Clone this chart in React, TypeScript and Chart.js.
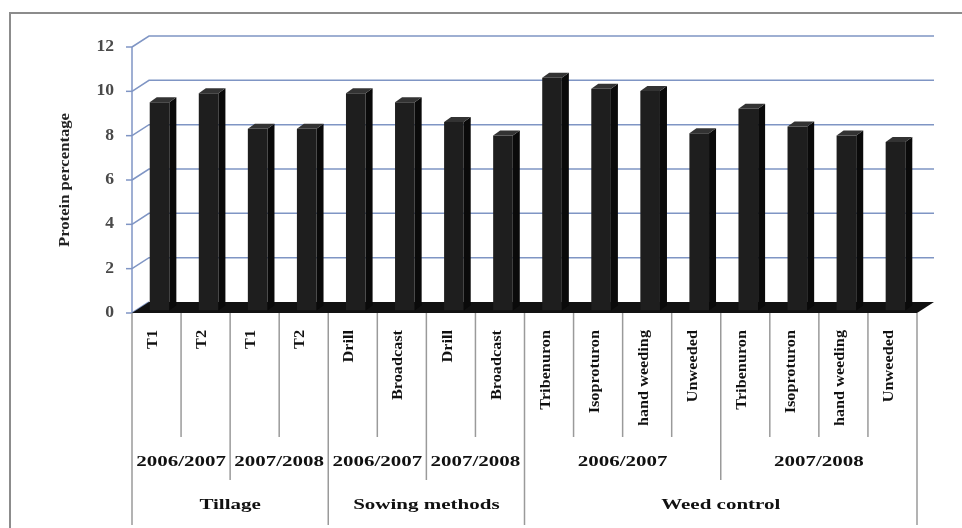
import React, { useEffect, useRef } from "react";
import { Chart, registerables } from "chart.js";

Chart.register(...registerables);

// Treatments along the category axis (innermost level)
const leafLabels = [
  "T1", "T2", "T1", "T2",
  "Drill", "Broadcast", "Drill", "Broadcast",
  "Tribenuron", "Isoproturon", "hand weeding", "Unweeded",
  "Tribenuron", "Isoproturon", "hand weeding", "Unweeded",
];

// Grain protein (%)
const proteinValues = [9.4, 9.8, 8.2, 8.2, 9.8, 9.4, 8.5, 7.9, 10.5, 10.0, 9.9, 8.0, 9.1, 8.3, 7.9, 7.6];

// Season level
const seasonLabels = ["2006/2007", "2007/2008", "2006/2007", "2007/2008", "2006/2007", "2007/2008"];
const seasonSpans = [2, 2, 2, 2, 4, 4];

// Factor level
const factorLabels = ["Tillage", "Sowing methods", "Weed control"];
const factorSpans = [4, 4, 8];

const yTicks = [0, 2, 4, 6, 8, 10, 12];
const yTitle = "Protein percentage";

const SERIF = "'Liberation Serif', 'Times New Roman', serif";
const GRID = "#7f95c4";
const DIVIDER = "#9a9a9a";

// Offsets of the 3D frame relative to the plane the bars are drawn in
const FRONT_DX = -3;
const FRONT_DY = 2.5;
const DEPTH_DX = 17;
const DEPTH_DY = -11;
const BAR_DX = 7;
const BAR_DY = -5;

function stretchedText(
  ctx: CanvasRenderingContext2D,
  text: string,
  x: number,
  y: number,
  angle: number,
  sx: number
) {
  ctx.save();
  ctx.translate(x, y);
  ctx.rotate(angle);
  ctx.scale(sx, 1);
  ctx.fillText(text, 0, 0);
  ctx.restore();
}

const frame3d = {
  id: "frame3d",
  beforeDatasetsDraw(chart: any) {
    const { ctx, chartArea: a, scales } = chart;
    const ys = scales.y;
    const xs = scales.x;
    const fx0 = a.left + FRONT_DX;
    const fx1 = a.right + FRONT_DX;
    const fy = (v: number) => ys.getPixelForValue(v) + FRONT_DY;
    const n = leafLabels.length;
    const w = (fx1 - fx0) / n;
    const edge = (k: number) => fx0 + k * w;

    ctx.save();

    // outer frame
    ctx.strokeStyle = "#8c8c8c";
    ctx.lineWidth = 2;
    ctx.beginPath();
    ctx.moveTo(10, 528);
    ctx.lineTo(10, 13);
    ctx.lineTo(962, 13);
    ctx.stroke();

    // back wall gridlines and side wall diagonals
    ctx.strokeStyle = GRID;
    ctx.lineWidth = 1.5;
    for (const v of yTicks) {
      const py = fy(v);
      ctx.beginPath();
      ctx.moveTo(fx0, py);
      ctx.lineTo(fx0 + DEPTH_DX, py + DEPTH_DY);
      if (v > 0) ctx.lineTo(fx1 + DEPTH_DX, py + DEPTH_DY);
      ctx.stroke();
      // tick mark
      ctx.beginPath();
      ctx.moveTo(fx0 - 6, py);
      ctx.lineTo(fx0, py);
      ctx.stroke();
    }
    // front value axis
    ctx.beginPath();
    ctx.moveTo(fx0, fy(yTicks[yTicks.length - 1]));
    ctx.lineTo(fx0, fy(0));
    ctx.stroke();

    // tick labels
    ctx.fillStyle = "#4a4a4a";
    ctx.font = `bold 16px ${SERIF}`;
    ctx.textAlign = "right";
    ctx.textBaseline = "middle";
    for (const v of yTicks) {
      stretchedText(ctx, String(v), fx0 - 18, fy(v), 0, 1.1);
    }

    // axis title
    ctx.fillStyle = "#222";
    ctx.font = `bold 14px ${SERIF}`;
    ctx.textAlign = "center";
    ctx.textBaseline = "middle";
    stretchedText(ctx, yTitle, 65, (fy(0) + fy(12)) / 2, -Math.PI / 2, 1.19);

    // floor
    const f0 = fy(0);
    ctx.fillStyle = "#111";
    ctx.beginPath();
    ctx.moveTo(fx0, f0);
    ctx.lineTo(fx1, f0);
    ctx.lineTo(fx1 + DEPTH_DX, f0 + DEPTH_DY);
    ctx.lineTo(fx0 + DEPTH_DX, f0 + DEPTH_DY);
    ctx.closePath();
    ctx.fill();

    // category axis dividers
    const leafEnd = f0 + 124;
    const seasonEnd = f0 + 167;
    const factorEnd = f0 + 212;
    const factorEdges = new Set<number>([0]);
    let acc = 0;
    for (const s of factorSpans) {
      acc += s;
      factorEdges.add(acc);
    }
    const seasonEdges = new Set<number>();
    acc = 0;
    for (const s of seasonSpans) {
      acc += s;
      seasonEdges.add(acc);
    }
    ctx.strokeStyle = DIVIDER;
    ctx.lineWidth = 1.5;
    for (let k = 0; k <= n; k++) {
      const bottom = factorEdges.has(k) ? factorEnd : seasonEdges.has(k) ? seasonEnd : leafEnd;
      const px = edge(k);
      ctx.beginPath();
      ctx.moveTo(px, f0);
      ctx.lineTo(px, bottom);
      ctx.stroke();
    }

    // treatment labels (vertical)
    ctx.fillStyle = "#111";
    ctx.font = `bold 14px ${SERIF}`;
    ctx.textAlign = "right";
    ctx.textBaseline = "middle";
    leafLabels.forEach((lab, i) => {
      const cx = xs.getPixelForValue(i) + FRONT_DX - 3;
      stretchedText(ctx, lab, cx, f0 + 17, -Math.PI / 2, 1.16);
    });

    // season labels
    ctx.font = `bold 15px ${SERIF}`;
    ctx.textAlign = "center";
    acc = 0;
    seasonLabels.forEach((lab, i) => {
      const cx = (edge(acc) + edge(acc + seasonSpans[i])) / 2;
      acc += seasonSpans[i];
      stretchedText(ctx, lab, cx, f0 + 149, 0, 1.4);
    });

    // factor labels
    acc = 0;
    factorLabels.forEach((lab, i) => {
      const cx = (edge(acc) + edge(acc + factorSpans[i])) / 2;
      acc += factorSpans[i];
      stretchedText(ctx, lab, cx, f0 + 192, 0, 1.4);
    });

    ctx.restore();
  },
  afterDatasetsDraw(chart: any) {
    const { ctx } = chart;
    const meta = chart.getDatasetMeta(0);
    ctx.save();
    for (const el of meta.data) {
      const { x, y, base, width } = el.getProps(["x", "y", "base", "width"], true);
      const l = x - width / 2;
      const r = x + width / 2;
      // side face
      ctx.fillStyle = "#0a0a0a";
      ctx.beginPath();
      ctx.moveTo(r, y);
      ctx.lineTo(r + BAR_DX, y + BAR_DY);
      ctx.lineTo(r + BAR_DX, base + BAR_DY);
      ctx.lineTo(r, base);
      ctx.closePath();
      ctx.fill();
      // top face
      ctx.fillStyle = "#333";
      ctx.beginPath();
      ctx.moveTo(l, y);
      ctx.lineTo(r, y);
      ctx.lineTo(r + BAR_DX, y + BAR_DY);
      ctx.lineTo(l + BAR_DX, y + BAR_DY);
      ctx.closePath();
      ctx.fill();
    }
    ctx.restore();
  },
};

export default function App() {
  const ref = useRef<HTMLCanvasElement>(null);

  useEffect(() => {
    const canvas = ref.current;
    if (!canvas) return;
    const chart = new Chart(canvas, {
      type: "bar",
      data: {
        labels: leafLabels,
        datasets: [
          {
            data: proteinValues,
            backgroundColor: "#1e1e1e",
            borderWidth: 0,
            categoryPercentage: 1,
            barPercentage: 0.4,
          },
        ],
      },
      options: {
        responsive: false,
        animation: false,
        devicePixelRatio: 1,
        layout: { padding: { left: 135, right: 42, top: 44.5, bottom: 217.5 } },
        plugins: {
          legend: { display: false },
          tooltip: { enabled: false },
        },
        scales: {
          x: { display: false },
          y: { display: false, min: 0, max: 12 },
        },
      },
      plugins: [frame3d],
    });
    return () => chart.destroy();
  }, []);

  return (
    <div style={{ position: "absolute", left: 0, top: 0, width: 962, height: 528, background: "#fff" }}>
      <canvas ref={ref} width={962} height={528} style={{ display: "block" }} />
    </div>
  );
}
